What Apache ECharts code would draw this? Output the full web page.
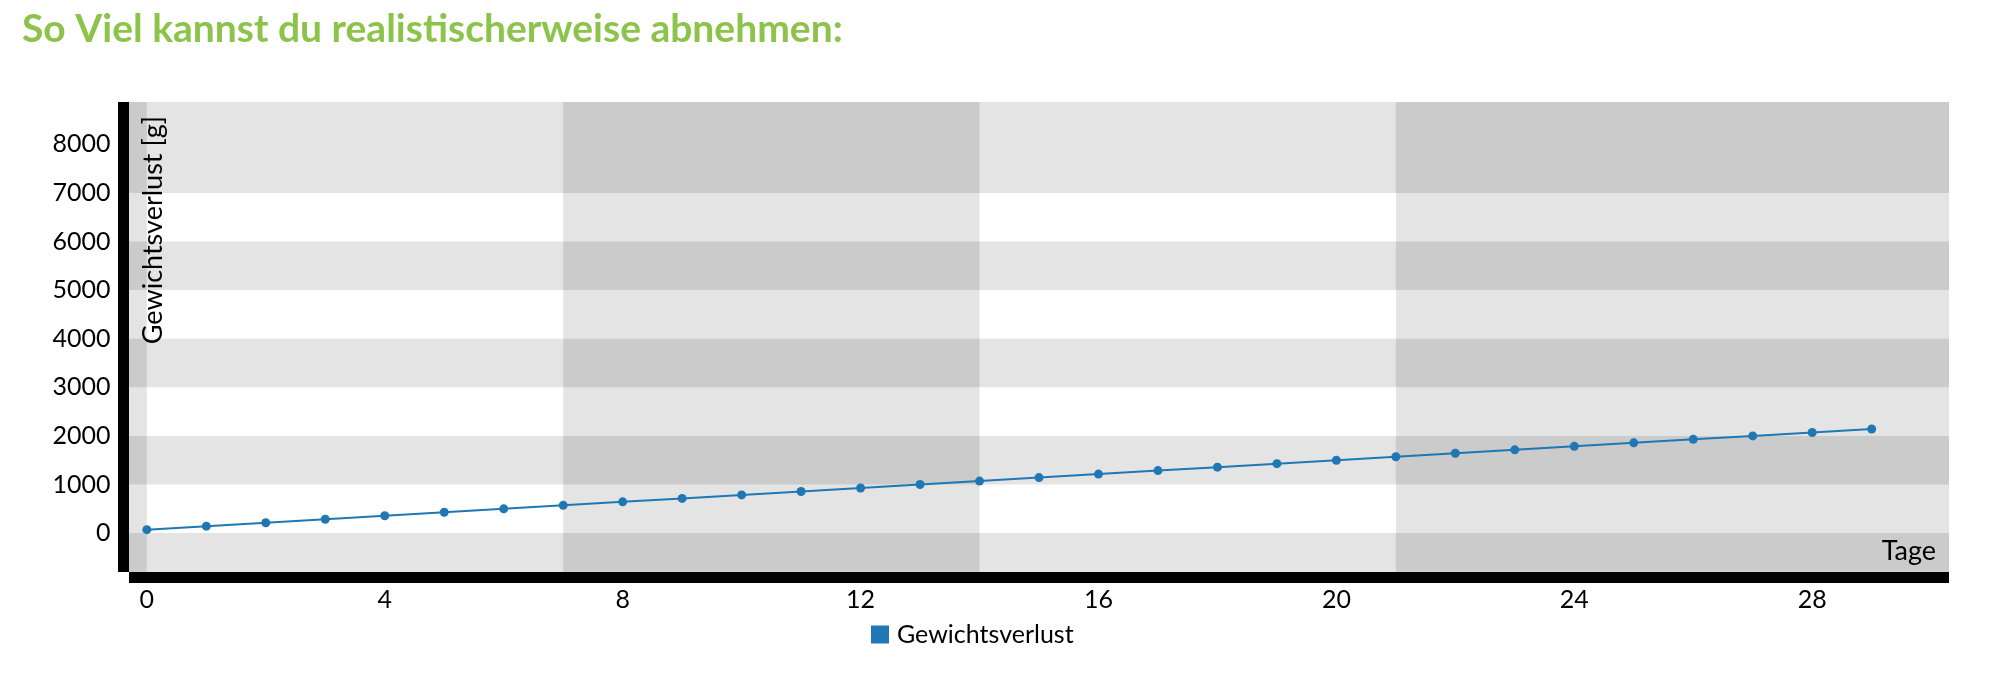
<!DOCTYPE html>
<html>
<head>
<meta charset="utf-8">
<script src="https://cdn.jsdelivr.net/npm/echarts@6/dist/echarts.min.js"></script>
<style>
html,body{margin:0;padding:0;background:#fff;}
#chart{width:2000px;height:694px;}
</style>
</head>
<body>
<div id="chart"></div>
<script>
// ---- data ----
const days = [0,1,2,3,4,5,6,7,8,9,10,11,12,13,14,15,16,17,18,19,20,21,22,23,24,25,26,27,28,29];
const weightLoss = [71,143,214,286,357,429,500,571,643,714,786,857,929,1000,1071,1143,1214,1286,1357,1429,1500,1571,1643,1714,1786,1857,1929,2000,2071,2143];
const xTickLabels = [0,4,8,12,16,20,24,28];
const yTickLabels = [0,1000,2000,3000,4000,5000,6000,7000,8000];
const xMin = -0.3, xMax = 30.3;
const yMin = -800, yMax = 8870;
const shadedWeekRanges = [[-0.3,0],[7,14],[21,30.3]];
const shadedValueRanges = [[-800,0],[1000,2000],[3000,4000],[5000,6000],[7000,8870]];
const titleText = 'So Viel kannst du realistischerweise abnehmen:';
const seriesName = 'Gewichtsverlust';
const yAxisTitle = 'Gewichtsverlust [g]';
const xAxisTitle = 'Tage';

const FONT = 'Lato';
const shade = 'rgba(0,0,0,0.105)';

const markData = [];
shadedValueRanges.forEach(r => markData.push([{yAxis: r[0], itemStyle:{color: shade}}, {yAxis: r[1]}]));
shadedWeekRanges.forEach(r => markData.push([{xAxis: r[0], itemStyle:{color: shade}}, {xAxis: r[1]}]));

const chart = echarts.init(document.getElementById('chart'), null, {renderer: 'canvas'});
chart.setOption({
  animation: false,
  backgroundColor: '#ffffff',
  title: {
    text: titleText,
    left: 17,
    top: 5,
    textStyle: {fontFamily: FONT, fontSize: 39, fontWeight: 'bold', color: '#8cc34b'}
  },
  legend: {
    left: 871,
    top: 622,
    padding: 0,
    icon: 'rect',
    itemWidth: 18,
    itemHeight: 18,
    itemGap: 10,
    data: [{name: seriesName, itemStyle: {color: '#1f77b4'}}],
    textStyle: {fontFamily: FONT, fontSize: 25, color: '#000', padding: [0,0,0,3]}
  },
  grid: {left: 129, right: 51, top: 102, bottom: 122, containLabel: false},
  xAxis: {
    type: 'value',
    min: xMin, max: xMax,
    offset: 5.5,
    axisLine: {show: true, onZero: false, lineStyle: {color: '#000', width: 11, cap: 'butt'}},
    axisTick: {show: false},
    splitLine: {show: false},
    axisLabel: {
      customValues: xTickLabels,
      margin: 10,
      formatter: v => String(v),
      fontFamily: FONT, fontSize: 25, color: '#000'
    }
  },
  yAxis: {
    type: 'value',
    min: yMin, max: yMax,
    offset: 5.5,
    axisLine: {show: true, onZero: false, lineStyle: {color: '#000', width: 11, cap: 'butt'}},
    axisTick: {show: false},
    splitLine: {show: false},
    axisLabel: {
      customValues: yTickLabels,
      margin: 13,
      formatter: v => String(v),
      fontFamily: FONT, fontSize: 25, color: '#000'
    }
  },
  graphic: [
    {
      type: 'text',
      x: 153, y: 116,
      rotation: Math.PI / 2,
      z: 10,
      style: {text: yAxisTitle, fontFamily: FONT, fontSize: 27, fill: '#000', align: 'right', verticalAlign: 'middle'}
    },
    {
      type: 'text',
      x: 1936, y: 551,
      z: 10,
      style: {text: xAxisTitle, fontFamily: FONT, fontSize: 27, fill: '#000', align: 'right', verticalAlign: 'middle'}
    }
  ],
  series: [{
    name: seriesName,
    type: 'line',
    data: days.map((d, i) => [d, weightLoss[i]]),
    symbol: 'circle',
    symbolSize: 9,
    lineStyle: {color: '#1f77b4', width: 2},
    itemStyle: {color: '#1f77b4'},
    markArea: {silent: true, data: markData}
  }]
});
</script>
</body>
</html>
